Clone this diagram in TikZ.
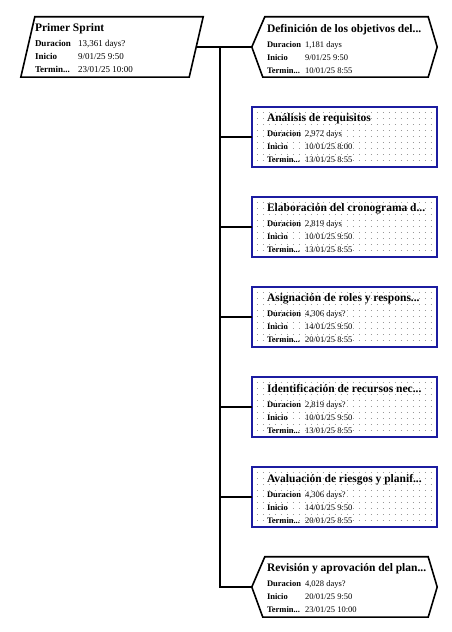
\documentclass[tikz,border=0pt]{standalone}
\usepackage{fontspec}
\setmainfont{Liberation Serif}
\usetikzlibrary{calc}
\definecolor{taskblue}{RGB}{28,28,160}
\tikzset{
  taskbox/.style={minimum width=185pt, minimum height=60pt, inner sep=0pt},
  tasktext/.style={anchor=north west, align=left, inner sep=0pt, font=\fontsize{8.5}{13}\selectfont},
  outline/.style={line width=1.6pt, line join=miter},
  link/.style={line width=1.2pt},
}
\newcommand{\tasktitle}[1]{{\fontsize{11.5}{13}\selectfont\bfseries #1}\\[2pt]}
\newcommand{\taskrow}[3][38pt]{\makebox[#1][l]{\bfseries #2}#3}

\begin{document}
\begin{tikzpicture}[x=1pt,y=1pt]
\useasboundingbox[fill=white] (0,0) rectangle (451,632);

% draw the summary task
\node[taskbox, minimum width=182pt] (sprint) at (112,585) {};
\draw[outline] ([xshift=14pt]sprint.north west) -- (sprint.north east)
  -- ([xshift=-14pt]sprint.south east) -- (sprint.south west) -- cycle;
\coordinate (sprintend) at ([xshift=-7pt]sprint.east);

% draw the task boxes
\foreach \i/\y in {1/585,2/495,3/405,4/315,5/225,6/135,7/45}
  \node[taskbox] (t\i) at (344.5,\y) {};

% first and last task as hexagons
\foreach \i in {1,7}
  \draw[outline] (t\i.west) -- ([xshift=13pt]t\i.north west)
    -- ([xshift=-9pt]t\i.north east) -- (t\i.east)
    -- ([xshift=-9pt]t\i.south east) -- ([xshift=11pt]t\i.south west) -- cycle;

% blue boxes with a dot grid
\foreach \i in {2,...,6} {
  \foreach \k in {1,...,9}
    \draw[gray!80, line width=0.8pt, dash pattern=on 0.8pt off 5.2pt]
      ([shift={(5pt,-\k*6pt)}]t\i.north west) -- ([shift={(-2pt,-\k*6pt)}]t\i.north east);
  \draw[taskblue, line width=1.6pt] (t\i.south west) rectangle (t\i.north east);
}

% draw the connectors
\coordinate (trunk) at (220,585);
\draw[link] (sprintend) -- (t1.west);
\draw[link] (trunk) |- (t7.west);
\foreach \i in {2,...,6}
  \draw[link] (trunk |- t\i.west) -- (t\i.west);

% draw the texts
\node[tasktext, font=\fontsize{9}{13}\selectfont] (sprintx) at ([shift={(14pt,-7pt)}]sprint.north west) {
  \tasktitle{Primer Sprint}
  \taskrow[43pt]{Duracion}{13,361 days?}\\
  \taskrow[43pt]{Inicio}{9/01/25 9:50}\\
  \taskrow[43pt]{Termin...}{23/01/25 10:00}
};
\node[tasktext] (t1x) at ([shift={(15pt,-7pt)}]t1.north west) {
  \tasktitle{Definición de los objetivos del...}
  \taskrow{Duracion}{1,181 days}\\
  \taskrow{Inicio}{9/01/25 9:50}\\
  \taskrow{Termin...}{10/01/25 8:55}
};
\node[tasktext] (t2x) at ([shift={(15pt,-7pt)}]t2.north west) {
  \tasktitle{Análisis de requisitos}
  \taskrow{Duracion}{2,972 days}\\
  \taskrow{Inicio}{10/01/25 8:00}\\
  \taskrow{Termin...}{13/01/25 8:55}
};
\node[tasktext] (t3x) at ([shift={(15pt,-7pt)}]t3.north west) {
  \tasktitle{Elaboración del cronograma d...}
  \taskrow{Duracion}{2,819 days}\\
  \taskrow{Inicio}{10/01/25 9:50}\\
  \taskrow{Termin...}{13/01/25 8:55}
};
\node[tasktext] (t4x) at ([shift={(15pt,-7pt)}]t4.north west) {
  \tasktitle{Asignación de roles y respons...}
  \taskrow{Duracion}{4,306 days?}\\
  \taskrow{Inicio}{14/01/25 9:50}\\
  \taskrow{Termin...}{20/01/25 8:55}
};
\node[tasktext] (t5x) at ([shift={(15pt,-7pt)}]t5.north west) {
  \tasktitle{Identificación de recursos nec...}
  \taskrow{Duracion}{2,819 days?}\\
  \taskrow{Inicio}{10/01/25 9:50}\\
  \taskrow{Termin...}{13/01/25 8:55}
};
\node[tasktext] (t6x) at ([shift={(15pt,-7pt)}]t6.north west) {
  \tasktitle{Avaluación de riesgos y planif...}
  \taskrow{Duracion}{4,306 days?}\\
  \taskrow{Inicio}{14/01/25 9:50}\\
  \taskrow{Termin...}{20/01/25 8:55}
};
\node[tasktext] (t7x) at ([shift={(15pt,-7pt)}]t7.north west) {
  \tasktitle{Revisión y aprovación del plan...}
  \taskrow{Duracion}{4,028 days?}\\
  \taskrow{Inicio}{20/01/25 9:50}\\
  \taskrow{Termin...}{23/01/25 10:00}
};
\end{tikzpicture}
\end{document}
